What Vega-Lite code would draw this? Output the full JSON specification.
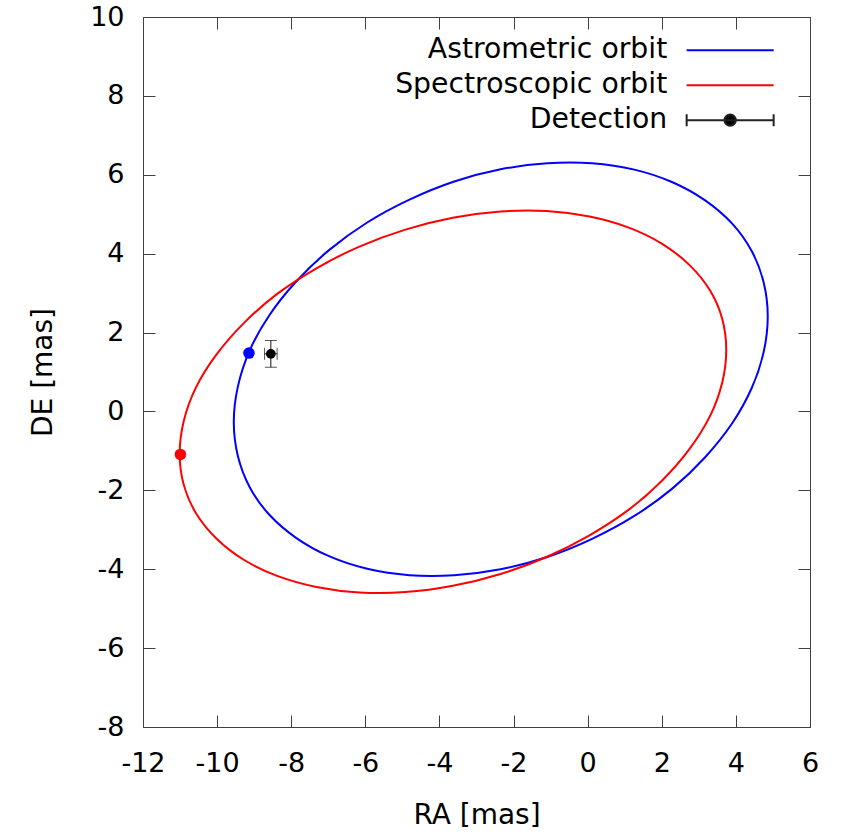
{
  "$schema": "https://vega.github.io/schema/vega-lite/v6.json",
  "autosize": {"type": "none"},
  "padding": {"left": 143, "top": 17, "right": 35, "bottom": 109},
  "width": 667,
  "height": 710,
  "background": "white",
  "config": {
    "view": {"stroke": "#404040", "strokeWidth": 1},
    "font": "DejaVu Sans",
    "axis": {"labelFont": "DejaVu Sans", "titleFont": "DejaVu Sans", "labelColor": "black", "titleColor": "black", "titleFontWeight": "normal", "grid": false},
    "legend": {"orient": "none", "legendX": 573, "legendY": 19, "title": null,
      "symbolSize": 473, "symbolStrokeWidth": 2, "symbolOffset": 0,
      "labelFont": "DejaVu Sans", "labelFontSize": 28.3, "labelColor": "black", "labelAlign": "right", "labelLimit": 600, "labelOffset": -77,
      "rowPadding": 6}
  },
  "datasets": {
    "orbits": [
      {"s": "Astrometric orbit", "i": 0, "x": 4.86, "y": 2.41},
      {"s": "Astrometric orbit", "i": 1, "x": 4.75, "y": 3.27},
      {"s": "Astrometric orbit", "i": 2, "x": 4.43, "y": 4.06},
      {"s": "Astrometric orbit", "i": 3, "x": 3.90, "y": 4.76},
      {"s": "Astrometric orbit", "i": 4, "x": 3.17, "y": 5.35},
      {"s": "Astrometric orbit", "i": 5, "x": 2.29, "y": 5.81},
      {"s": "Astrometric orbit", "i": 6, "x": 1.26, "y": 6.13},
      {"s": "Astrometric orbit", "i": 7, "x": 0.12, "y": 6.29},
      {"s": "Astrometric orbit", "i": 8, "x": -1.09, "y": 6.29},
      {"s": "Astrometric orbit", "i": 9, "x": -2.35, "y": 6.14},
      {"s": "Astrometric orbit", "i": 10, "x": -3.60, "y": 5.83},
      {"s": "Astrometric orbit", "i": 11, "x": -4.81, "y": 5.37},
      {"s": "Astrometric orbit", "i": 12, "x": -5.95, "y": 4.79},
      {"s": "Astrometric orbit", "i": 13, "x": -6.98, "y": 4.09},
      {"s": "Astrometric orbit", "i": 14, "x": -7.86, "y": 3.30},
      {"s": "Astrometric orbit", "i": 15, "x": -8.59, "y": 2.44},
      {"s": "Astrometric orbit", "i": 16, "x": -9.12, "y": 1.55},
      {"s": "Astrometric orbit", "i": 17, "x": -9.44, "y": 0.63},
      {"s": "Astrometric orbit", "i": 18, "x": -9.55, "y": -0.27},
      {"s": "Astrometric orbit", "i": 19, "x": -9.44, "y": -1.13},
      {"s": "Astrometric orbit", "i": 20, "x": -9.12, "y": -1.92},
      {"s": "Astrometric orbit", "i": 21, "x": -8.59, "y": -2.62},
      {"s": "Astrometric orbit", "i": 22, "x": -7.86, "y": -3.21},
      {"s": "Astrometric orbit", "i": 23, "x": -6.98, "y": -3.67},
      {"s": "Astrometric orbit", "i": 24, "x": -5.95, "y": -3.99},
      {"s": "Astrometric orbit", "i": 25, "x": -4.81, "y": -4.15},
      {"s": "Astrometric orbit", "i": 26, "x": -3.60, "y": -4.15},
      {"s": "Astrometric orbit", "i": 27, "x": -2.35, "y": -4.00},
      {"s": "Astrometric orbit", "i": 28, "x": -1.09, "y": -3.69},
      {"s": "Astrometric orbit", "i": 29, "x": 0.12, "y": -3.23},
      {"s": "Astrometric orbit", "i": 30, "x": 1.26, "y": -2.65},
      {"s": "Astrometric orbit", "i": 31, "x": 2.29, "y": -1.95},
      {"s": "Astrometric orbit", "i": 32, "x": 3.17, "y": -1.16},
      {"s": "Astrometric orbit", "i": 33, "x": 3.90, "y": -0.30},
      {"s": "Astrometric orbit", "i": 34, "x": 4.43, "y": 0.60},
      {"s": "Astrometric orbit", "i": 35, "x": 4.75, "y": 1.51},
      {"s": "Spectroscopic orbit", "i": 0, "x": 3.74, "y": 1.56},
      {"s": "Spectroscopic orbit", "i": 1, "x": 3.63, "y": 2.35},
      {"s": "Spectroscopic orbit", "i": 2, "x": 3.30, "y": 3.07},
      {"s": "Spectroscopic orbit", "i": 3, "x": 2.75, "y": 3.71},
      {"s": "Spectroscopic orbit", "i": 4, "x": 2.01, "y": 4.25},
      {"s": "Spectroscopic orbit", "i": 5, "x": 1.11, "y": 4.66},
      {"s": "Spectroscopic orbit", "i": 6, "x": 0.05, "y": 4.94},
      {"s": "Spectroscopic orbit", "i": 7, "x": -1.11, "y": 5.08},
      {"s": "Spectroscopic orbit", "i": 8, "x": -2.35, "y": 5.07},
      {"s": "Spectroscopic orbit", "i": 9, "x": -3.64, "y": 4.91},
      {"s": "Spectroscopic orbit", "i": 10, "x": -4.92, "y": 4.61},
      {"s": "Spectroscopic orbit", "i": 11, "x": -6.16, "y": 4.18},
      {"s": "Spectroscopic orbit", "i": 12, "x": -7.32, "y": 3.63},
      {"s": "Spectroscopic orbit", "i": 13, "x": -8.38, "y": 2.98},
      {"s": "Spectroscopic orbit", "i": 14, "x": -9.28, "y": 2.24},
      {"s": "Spectroscopic orbit", "i": 15, "x": -10.02, "y": 1.44},
      {"s": "Spectroscopic orbit", "i": 16, "x": -10.57, "y": 0.61},
      {"s": "Spectroscopic orbit", "i": 17, "x": -10.90, "y": -0.24},
      {"s": "Spectroscopic orbit", "i": 18, "x": -11.01, "y": -1.07},
      {"s": "Spectroscopic orbit", "i": 19, "x": -10.90, "y": -1.86},
      {"s": "Spectroscopic orbit", "i": 20, "x": -10.57, "y": -2.58},
      {"s": "Spectroscopic orbit", "i": 21, "x": -10.02, "y": -3.22},
      {"s": "Spectroscopic orbit", "i": 22, "x": -9.28, "y": -3.76},
      {"s": "Spectroscopic orbit", "i": 23, "x": -8.38, "y": -4.17},
      {"s": "Spectroscopic orbit", "i": 24, "x": -7.32, "y": -4.45},
      {"s": "Spectroscopic orbit", "i": 25, "x": -6.16, "y": -4.59},
      {"s": "Spectroscopic orbit", "i": 26, "x": -4.92, "y": -4.58},
      {"s": "Spectroscopic orbit", "i": 27, "x": -3.64, "y": -4.42},
      {"s": "Spectroscopic orbit", "i": 28, "x": -2.35, "y": -4.12},
      {"s": "Spectroscopic orbit", "i": 29, "x": -1.11, "y": -3.69},
      {"s": "Spectroscopic orbit", "i": 30, "x": 0.05, "y": -3.14},
      {"s": "Spectroscopic orbit", "i": 31, "x": 1.11, "y": -2.49},
      {"s": "Spectroscopic orbit", "i": 32, "x": 2.01, "y": -1.75},
      {"s": "Spectroscopic orbit", "i": 33, "x": 2.75, "y": -0.95},
      {"s": "Spectroscopic orbit", "i": 34, "x": 3.30, "y": -0.12},
      {"s": "Spectroscopic orbit", "i": 35, "x": 3.63, "y": 0.73}
    ],
    "dots": [
      {"s": "Astrometric orbit", "x": -9.14, "y": 1.48},
      {"s": "Spectroscopic orbit", "x": -10.99, "y": -1.09}
    ],
    "detection": [
      {"s": "Detection", "x": -8.55, "y": 1.46, "xlo": -8.72, "xhi": -8.38, "ylo": 1.12, "yhi": 1.80}
    ],
    "legrows": [
      {"s": "Astrometric orbit"},
      {"s": "Spectroscopic orbit"},
      {"s": "Detection"}
    ]
  },
  "layer": [
    {
      "data": {"name": "orbits"},
      "mark": {"type": "line", "interpolate": "cardinal-closed", "strokeWidth": 2},
      "encoding": {
        "x": {"field": "x", "type": "quantitative",
          "scale": {"domain": [-12, 6], "nice": false, "zero": false},
          "axis": {"orient": "bottom", "values": [-12, -10, -8, -6, -4, -2, 0, 2, 4, 6], "title": "RA [mas]", "domain": false,
            "labelExpr": "toString(datum.value)",
            "tickSize": -12, "tickColor": "#404040", "labelPadding": 35, "labelFontSize": 27, "labelFlush": false, "labelOverlap": false,
            "titleFontSize": 28, "titlePadding": 25}},
        "y": {"field": "y", "type": "quantitative",
          "scale": {"domain": [-8, 10], "nice": false, "zero": false},
          "axis": {"orient": "left", "values": [-8, -6, -4, -2, 0, 2, 4, 6, 8, 10], "title": "DE [mas]", "domain": false,
            "labelExpr": "toString(datum.value)",
            "tickSize": -12, "tickColor": "#404040", "labelPadding": 31, "labelFontSize": 27, "labelFlush": false, "labelOverlap": false,
            "titleFontSize": 28, "titlePadding": 32}},
        "color": {"field": "s", "type": "nominal",
          "scale": {"domain": ["Astrometric orbit", "Spectroscopic orbit"], "range": ["#0000ff", "#ff0000"]},
          "legend": null},
        "order": {"field": "i", "type": "quantitative"}
      }
    },
    {
      "data": {"name": "dots"},
      "mark": {"type": "point", "filled": true, "opacity": 1, "size": 133, "shape": "circle"},
      "encoding": {
        "x": {"field": "x", "type": "quantitative",
          "axis": {"orient": "top", "values": [-12, -10, -8, -6, -4, -2, 0, 2, 4, 6], "title": null, "labels": false, "domain": false,
            "tickSize": -12, "tickColor": "#404040"}},
        "y": {"field": "y", "type": "quantitative",
          "axis": {"orient": "right", "values": [-8, -6, -4, -2, 0, 2, 4, 6, 8, 10], "title": null, "labels": false, "domain": false,
            "tickSize": -12, "tickColor": "#404040"}},
        "color": {"field": "s", "type": "nominal", "legend": null}
      }
    },
    {
      "data": {"name": "detection"},
      "mark": {"type": "errorbar", "ticks": {"size": 12}, "thickness": 1, "color": "#111111"},
      "encoding": {
        "x": {"field": "xlo", "type": "quantitative", "axis": null},
        "x2": {"field": "xhi"},
        "y": {"field": "y", "type": "quantitative", "axis": null}
      }
    },
    {
      "data": {"name": "detection"},
      "mark": {"type": "errorbar", "ticks": {"size": 12}, "thickness": 1, "color": "#111111"},
      "encoding": {
        "y": {"field": "ylo", "type": "quantitative", "axis": null},
        "y2": {"field": "yhi"},
        "x": {"field": "x", "type": "quantitative", "axis": null}
      }
    },
    {
      "data": {"name": "detection"},
      "mark": {"type": "point", "filled": true, "opacity": 1, "size": 95, "shape": "circle", "color": "black"},
      "encoding": {
        "x": {"field": "x", "type": "quantitative", "axis": null},
        "y": {"field": "y", "type": "quantitative", "axis": null}
      }
    },
    {
      "data": {"name": "legrows"},
      "mark": {"type": "point", "filled": false, "size": 0, "opacity": 1},
      "encoding": {
        "shape": {"field": "s", "type": "nominal",
          "scale": {"domain": ["Astrometric orbit", "Spectroscopic orbit", "Detection"],
            "range": ["M-4,0H4", "M-4,0H4", "M-4,0H4M-4,-0.55V0.55M4,-0.55V0.55M0.52,0A0.52,0.52,0,1,1,-0.52,0A0.52,0.52,0,1,1,0.52,0Z"]},
          "legend": {"encode": {"symbols": {"size": {"value": 473}, "opacity": {"value": 1}}}}},
        "stroke": {"field": "s", "type": "nominal",
          "scale": {"domain": ["Astrometric orbit", "Spectroscopic orbit", "Detection"], "range": ["#0000ff", "#ff0000", "#222222"]},
          "legend": {"encode": {"symbols": {"size": {"value": 473}, "opacity": {"value": 1}}}}},
        "fill": {"field": "s", "type": "nominal",
          "scale": {"domain": ["Astrometric orbit", "Spectroscopic orbit", "Detection"], "range": ["transparent", "transparent", "#000000"]},
          "legend": {"encode": {"symbols": {"size": {"value": 473}, "opacity": {"value": 1}}}}}
      }
    }
  ],
  "resolve": {"scale": {"x": "shared", "y": "shared"}, "axis": {"x": "independent", "y": "independent"}}
}
